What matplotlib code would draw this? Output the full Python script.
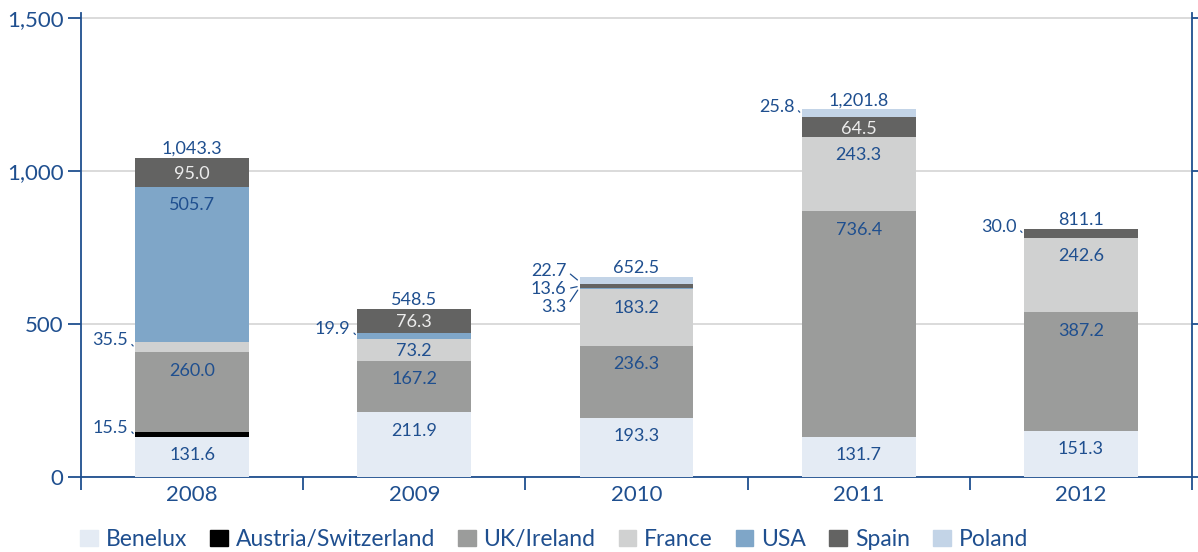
import matplotlib.pyplot as plt
from matplotlib.patches import Patch

plt.rcParams['font.family'] = ['Lato', 'DejaVu Sans']

years = ['2008', '2009', '2010', '2011', '2012']
regions = ['Benelux', 'Austria/Switzerland', 'UK/Ireland', 'France', 'USA', 'Spain', 'Poland']
benelux = [131.6, 211.9, 193.3, 131.7, 151.3]
austria_switzerland = [15.5, 0, 0, 0, 0]
uk_ireland = [260.0, 167.2, 236.3, 736.4, 387.2]
france = [35.5, 73.2, 183.2, 243.3, 242.6]
usa = [505.7, 19.9, 3.3, 0, 0]
spain = [95.0, 76.3, 13.6, 64.5, 30.0]
poland = [0, 0, 22.7, 25.8, 0]
totals = [1043.3, 548.5, 652.5, 1201.8, 811.1]

series = [benelux, austria_switzerland, uk_ireland, france, usa, spain, poland]
colors = ['#e4ebf4', '#000000', '#9b9c9b', '#d0d1d1', '#7fa6c8', '#636362', '#c3d4e7']
blue = '#1f4f8f'

W, H = 1198, 552
fig = plt.figure(figsize=(W / 100, H / 100), dpi=100)
ymax = 1517
ax = fig.add_axes([81 / W, 1 - 477 / H, 1111 / W, 459 * ymax / 1500 / H])
ax.set_xlim(-0.5, 4.5)
ax.set_ylim(0, ymax)

upp = 1500 / 459   # data units per pixel (y)
xpp = 5 / 1111     # data units per pixel (x)
width = 0.513

bottoms = [0.0] * len(years)
# runs of adjacent small segments per bar
runs = {i: [] for i in range(len(years))}
last_small = {i: False for i in range(len(years))}
for s, vals in enumerate(series):
    ax.bar(range(len(years)), vals, width, bottom=bottoms, color=colors[s], zorder=3)
    for i, v in enumerate(vals):
        if v <= 0:
            continue
        b = bottoms[i]
        top = b + v
        mid = b + v / 2
        if v < 50:
            if last_small[i]:
                runs[i][-1].append((v, mid))
            else:
                runs[i].append([(v, mid)])
            last_small[i] = True
        else:
            last_small[i] = False
            y = max(top - 17 * upp, mid)
            tc = '#ececec' if regions[s] == 'Spain' else blue
            ax.text(i, y, f'{v:,.1f}', ha='center', va='center_baseline',
                    fontsize=13, color=tc, zorder=4)
    bottoms = [bottoms[i] + vals[i] for i in range(len(years))]

# small segments: label at the left with a short leader line
for i, groups in runs.items():
    left = i - width / 2
    for items in groups:
        if len(items) == 1:
            v, mid = items[0]
            pos = [(mid + 8 * upp, left - 7 * xpp)]
        else:
            gc = sum(m for _, m in items) / len(items) - 2 * upp
            n = len(items)
            pos = [(gc + ((k - (n - 1) / 2) * 18) * upp, left - 13 * xpp) for k in range(n)]
        for (v, mid), (ty, tx) in zip(items, pos):
            ax.annotate(f'{v:,.1f}', xy=(left - 1 * xpp, mid), xytext=(tx, ty),
                        ha='right', va='center_baseline', fontsize=13, color=blue,
                        annotation_clip=False,
                        arrowprops=dict(arrowstyle='-', color=blue, lw=0.9,
                                        shrinkA=1, shrinkB=1, relpos=(1.0, 0.5)))

for i, t in enumerate(totals):
    ax.text(i, t + 4 * upp, f'{t:,.1f}', ha='center', va='baseline',
            fontsize=13, color=blue, zorder=4)

# axes styling
ax.set_yticks([0, 500, 1000, 1500])
ax.set_yticklabels(['0', '500', '1,000', '1,500'])
ax.set_xticks(range(len(years)))
ax.set_xticklabels(years)
ax.set_xticks([x - 0.5 for x in range(len(years) + 1)], minor=True)
ax.tick_params(axis='x', which='major', length=0, pad=6, labelsize=16, labelcolor=blue)
ax.tick_params(axis='x', which='minor', length=9, width=1.3, color=blue)
ax.tick_params(axis='y', length=9.5, width=1.3, color=blue, pad=3,
               labelsize=16, labelcolor=blue, right=True)
ax.grid(axis='y', color='#d4d4d4', lw=1.2, zorder=0)
ax.set_axisbelow(True)
for side in ['left', 'right', 'bottom']:
    ax.spines[side].set_color(blue)
    ax.spines[side].set_linewidth(1.3)
ax.spines['top'].set_visible(False)

handles = [Patch(color=c) for c in colors]
fig.legend(handles, regions, loc='lower left', bbox_to_anchor=(80 / W, 2 / H),
           ncol=7, frameon=False, fontsize=16.5, labelcolor=blue,
           handlelength=0.77, handleheight=0.7, handletextpad=0.35,
           columnspacing=1.0, borderpad=0, borderaxespad=0)

fig.savefig('out.png', dpi=100)
